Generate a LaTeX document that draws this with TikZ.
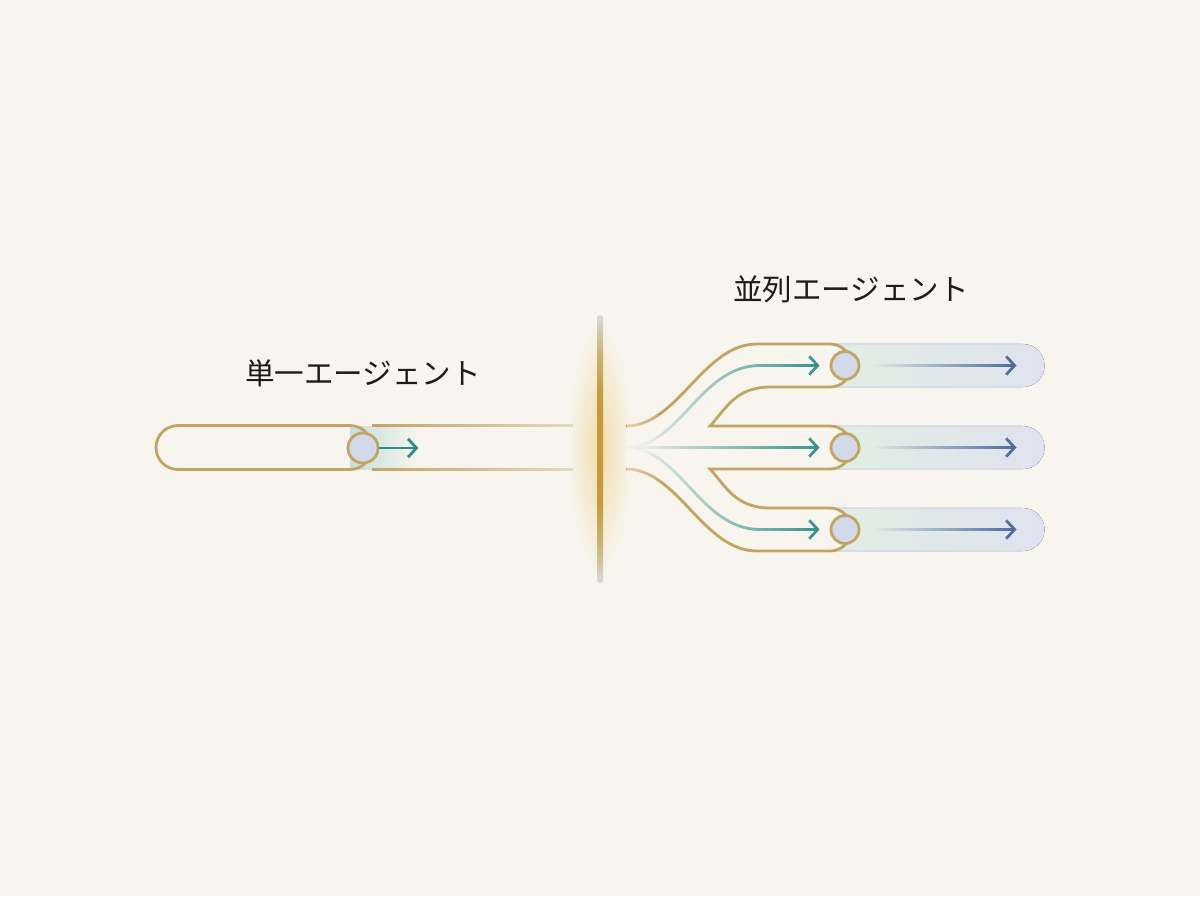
\documentclass[tikz,border=0pt]{standalone}
\usepackage{fontspec}
\newfontfamily\jpfont{Noto Sans CJK JP}
\usetikzlibrary{arrows.meta, fadings, positioning}
\definecolor{bg}{HTML}{F8F5EE}
\definecolor{gold}{HTML}{C4A464}
\definecolor{arrteal}{HTML}{2E8C88}
\definecolor{navy}{HTML}{4D6A9C}
\definecolor{pillblue}{HTML}{DFE3EF}
\definecolor{pillgreen}{HTML}{E1EEE3}
\definecolor{dotblue}{HTML}{D2DAEA}
\definecolor{glow}{HTML}{F0DEAA}
\definecolor{wallend}{HTML}{D5DBD8}
\definecolor{wallmid}{HTML}{C49A3C}
\definecolor{ink}{HTML}{1C1C1C}
\tikzfading[name=fadeout, left color=transparent!0, right color=transparent!100]
\tikzfading[name=fadein, left color=transparent!100, right color=transparent!0]
\tikzfading[name=softglow, inner color=transparent!0, outer color=transparent!100]
\pgfdeclareverticalshading{wallshade}{100bp}{color(0bp)=(wallend); color(25bp)=(wallend);
  color(32bp)=(wallmid!60!wallend); color(40bp)=(wallmid); color(60bp)=(wallmid);
  color(68bp)=(wallmid!60!wallend); color(75bp)=(wallend); color(100bp)=(wallend)}

\begin{document}
\begin{tikzpicture}[x=0.025cm, y=-0.025cm,
    g/.style={draw=gold, line width=2pt},
    dot/.style={circle, draw=gold, line width=2pt, fill=dotblue, inner sep=0pt, minimum size=0.7cm},
    ta/.style={draw=arrteal, line width=2pt, line cap=round, -{Straight Barb[length=6pt, width=13pt]}},
    ba/.style={draw=navy, line width=2pt, line cap=round, -{Straight Barb[length=6pt, width=13pt]}},
    lbl/.style={font=\jpfont\fontsize{21}{25}\selectfont, text=ink}]
  \fill[bg] (0,0) rectangle (1200,896);

  % wall in the middle
  \fill[glow, path fading=softglow] (568,325) rectangle (632,571);
  \shade[shading=wallshade, rounded corners=2pt] (597,315) rectangle (603,583);

  % single agent
  \node[lbl] (single) at (363,373) {単一エージェント};
  \fill[bg] (156,425.5) rectangle (372,469.5);
  \fill[arrteal!28, path fading=fadeout] (350,425.5) rectangle (418,469.5);
  \draw[g, rounded corners=0.55cm] (156,425.5) rectangle (372,469.5);
  \shade[left color=gold, right color=gold!35!bg] (372,424.5) rectangle (573,426.5);
  \shade[left color=gold, right color=gold!35!bg] (372,468.5) rectangle (573,470.5);
  \node[dot, minimum size=0.75cm] (lc) at (363,448) {};
  \draw[ta] (lc.east) -- ++(39,0);

  % parallel agents
  \node[lbl] (parallel) at (851,289) {並列エージェント};
  \foreach \y in {365.5, 447.5, 529.5} {
    \fill[left color=pillgreen, right color=pillblue]
      (830,\y-21.5) -- (1023,\y-21.5) arc[start angle=-90, end angle=90, radius=21.5] -- (830,\y+21.5) -- cycle;
    \draw[navy!22, line width=1.2pt] (835,\y-21.5) -- (1023,\y-21.5);
    \draw[navy!22, line width=1.2pt] (835,\y+21.5) -- (1023,\y+21.5);
  }
  \draw[g, fill=bg] (626,426) .. controls (678,426) and (703,344) .. (757,344) -- (830,344)
      arc[start angle=-90, end angle=90, radius=21.5] -- (770,387)
      .. controls (735,387) and (725,410) .. (710,426) -- (830,426)
      arc[start angle=-90, end angle=90, radius=21.5] -- (710,469)
      .. controls (725,485) and (735,508) .. (770,508) -- (830,508)
      arc[start angle=-90, end angle=90, radius=21.5] -- (757,551)
      .. controls (703,551) and (678,469) .. (626,469);
  \node[dot] (c1) at (845,365.5) {};
  \node[dot] (c2) at (845,447.5) {};
  \node[dot] (c3) at (845,529.5) {};
  \coordinate (hub) at (626,447.5);
  \draw[ta, path fading=fadein, shorten >=0.25cm] (hub) .. controls (680,447.5) and (700,365.5) .. (760,365.5) -- (c1.west);
  \draw[ta, path fading=fadein, shorten >=0.25cm] ([yshift=8pt]hub) ([yshift=-8pt]hub) (hub) -- (c2.west);
  \draw[ta, path fading=fadein, shorten >=0.25cm] (hub) .. controls (680,447.5) and (700,529.5) .. (760,529.5) -- (c3.west);
  \fill[bg, opacity=.55, path fading=fadeout] (627,415) rectangle (666,480);
  \foreach \c in {c1, c2, c3}
    \draw[ba, path fading=fadein] ([xshift=0.35cm, yshift=8pt]\c.east) ([xshift=0.35cm, yshift=-8pt]\c.east)
      ([xshift=0.35cm]\c.east) -- ([xshift=3.9cm]\c.east);
\end{tikzpicture}
\end{document}
